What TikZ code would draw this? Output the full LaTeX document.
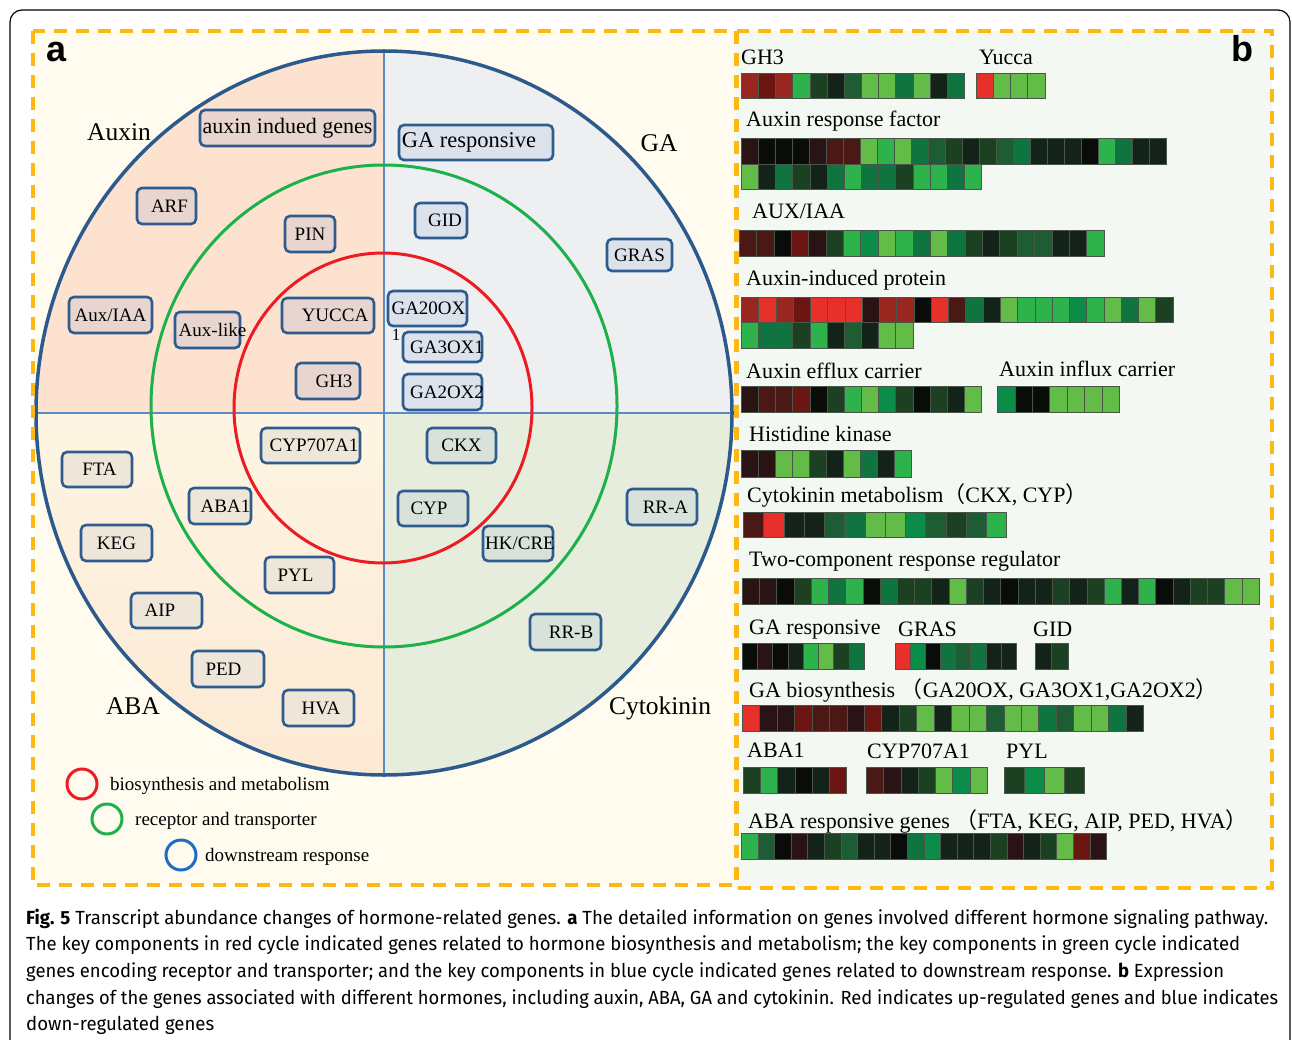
\documentclass[tikz,border=0pt]{standalone}
\usepackage{graphicx}
\usepackage{fontspec}
\setmainfont{Liberation Serif}
\newfontfamily\capfont{Fira Sans}
\newfontfamily\lblfont{Liberation Sans}
\newfontfamily\cjk{Noto Sans CJK SC}
\definecolor{hA}{HTML}{E8302A}
\definecolor{hB}{HTML}{98281F}
\definecolor{hC}{HTML}{6C1614}
\definecolor{hD}{HTML}{4C1816}
\definecolor{hE}{HTML}{2A1315}
\definecolor{hK}{HTML}{0A0C0A}
\definecolor{h1}{HTML}{13231A}
\definecolor{h2}{HTML}{1C4022}
\definecolor{h3}{HTML}{1E5C34}
\definecolor{h4}{HTML}{0F7440}
\definecolor{h5}{HTML}{2DB24C}
\definecolor{h6}{HTML}{62BC47}
\definecolor{h7}{HTML}{0B8C48}
\definecolor{hedge}{HTML}{4A564A}
\definecolor{pa}{HTML}{FFFBEF}
\definecolor{pb}{HTML}{F3F8F2}
\definecolor{dashc}{HTML}{FDB813}
\definecolor{qA}{HTML}{FCE2CF}
\definecolor{qG}{HTML}{EDEFF0}
\definecolor{qBt}{HTML}{FDF5E3}
\definecolor{qBb}{HTML}{FCE9D4}
\definecolor{qC}{HTML}{E6EDDC}
\definecolor{bA}{HTML}{E8D5CF}
\definecolor{bG}{HTML}{DCE2EC}
\definecolor{bB}{HTML}{EEE6D8}
\definecolor{bC}{HTML}{D8E2DA}
\definecolor{bxline}{HTML}{2F5C8F}
\definecolor{cblue}{HTML}{2C5A8C}
\definecolor{cgreen}{HTML}{1DB04B}
\definecolor{cred}{HTML}{EC1C24}
\definecolor{lblue}{HTML}{1B6EC2}
\definecolor{divc}{HTML}{5B8BC6}
\tikzset{
  gb/.style={draw=bxline, line width=2.6pt, rounded corners=5pt, inner sep=0pt, font=\fontsize{19}{19}\selectfont},
  qlab/.style={anchor=base, font=\fontsize{25.5}{26}\selectfont},
  hlab/.style={anchor=base west, inner sep=0pt, font=\fontsize{22}{22}\selectfont},
  leglab/.style={anchor=base west, inner sep=0pt, font=\fontsize{19}{19}\selectfont},
  captxt/.style={anchor=base west, inner sep=0pt, font=\capfont\fontsize{19}{19}\selectfont},
  plab/.style={anchor=base west, inner sep=0pt, font=\lblfont\bfseries\fontsize{36}{36}\selectfont},
  dashbox/.style={draw=dashc, line width=3.2pt, dash pattern=on 13pt off 9pt},
}
\newcommand\hm[5]{%
  \foreach \c [count=\i from 0] in {#5}{%
    \path[fill=h\c, draw=hedge, line width=0.5pt] ({#1+\i*#3},#2) rectangle ++(#3,#4);}%
}
\newcommand\gbx[8]{\node[gb, fill=#6, minimum width=#4pt, minimum height=#5pt] (#1) at (#2,#3) {\makebox[0pt][c]{\hspace*{#7pt}#8\hspace*{-#7pt}}};}
\begin{document}
\begin{tikzpicture}[x=1pt,y=-1pt]
\useasboundingbox (0,0) rectangle (1292,1040);
\fill[white] (0,0) rectangle (1292,1040);
\begin{scope}
  \clip (0,0) rectangle (1292,1040);
  \draw[black, line width=1.2pt, rounded corners=12pt] (10,10) rectangle (1290,1080);
\end{scope}
% panel backgrounds
\fill[pa] (33,31) rectangle (736,885);
\fill[pb] (736,31) rectangle (1272,888);
% quadrant fills
\begin{scope}
  \clip (384,413) ellipse [x radius=348pt, y radius=362pt];
  \fill[qA] (30,40) rectangle (384,413);
  \fill[qG] (384,40) rectangle (740,413);
  \shade[top color=qBt, bottom color=qBb] (30,413) rectangle (384,780);
  \fill[qC] (384,413) rectangle (740,780);
\end{scope}
% dividers
\draw[divc, line width=1.2pt] (36,413) -- (731,413);
\draw[divc, line width=1.2pt] (384,52) -- (384,775);
% circles
\draw[cgreen, line width=3pt] (384,406) ellipse [x radius=233pt, y radius=241pt];
\draw[cred, line width=3pt] (383,408) ellipse [x radius=149pt, y radius=155pt];
\draw[cblue, line width=3.5pt] (384,413) ellipse [x radius=348pt, y radius=362pt];
% quadrant labels
\node[qlab] (tAux) at (119,141) {Auxin};
\node[qlab] (tGA) at (659,152) {GA};
\node[qlab] (tABA) at (133,714) {ABA};
\node[qlab] (tCK) at (660,714) {Cytokinin};
% auxin boxes
\gbx{auxg}{287.5}{128}{175}{36}{bA}{0}{\fontsize{22}{22}\selectfont auxin indued genes}
\gbx{arf}{166.5}{206}{59}{36}{bA}{3}{ARF}
\gbx{pin}{310}{234}{50}{36}{bA}{0}{PIN}
\gbx{auxiaa}{110.5}{315}{83}{36}{bA}{0}{Aux/IAA}
\gbx{auxlike}{207.5}{330}{65}{36}{bA}{5}{Aux-like}
\gbx{yucca}{328}{315.5}{92}{35}{bA}{7}{YUCCA}
\gbx{gh3}{328}{381}{64}{36}{bA}{6}{GH3}
% GA boxes
\gbx{garesp}{476}{142.5}{154}{35}{bG}{-7}{\fontsize{22.5}{22.5}\selectfont GA responsive}
\gbx{gid}{441}{220.5}{52}{35}{bG}{4}{GID}
\gbx{gras}{639.5}{255}{65}{32}{bG}{0}{GRAS}
\gbx{ga20}{427.5}{308.5}{79}{35}{bG}{1}{GA20OX}
\gbx{ga3}{442.5}{347}{79}{30}{bG}{4.5}{GA3OX1}
\gbx{ga2}{442.5}{392}{79}{36}{bG}{4.5}{GA2OX2}
\node[font=\fontsize{17}{17}\selectfont, inner sep=0pt] (one) at (396,335) {1};
% ABA boxes
\gbx{cyp707}{310.5}{445.5}{99}{35}{bB}{3.5}{CYP707A1}
\gbx{fta}{97}{469.5}{70}{35}{bB}{2.5}{FTA}
\gbx{aba1}{220}{506}{62}{36}{bB}{5.5}{ABA1}
\gbx{keg}{116.5}{543}{71}{36}{bB}{0}{KEG}
\gbx{pyl}{299.5}{575}{69}{36}{bB}{-4}{PYL}
\gbx{aip}{166.5}{610.5}{71}{35}{bB}{-6.5}{AIP}
\gbx{ped}{228}{669}{72}{36}{bB}{-4.5}{PED}
\gbx{hva}{318.5}{708}{71}{36}{bB}{2.5}{HVA}
% cytokinin boxes
\gbx{ckx}{461.5}{445.5}{69}{35}{bC}{0}{CKX}
\gbx{cyp}{433}{508.5}{70}{35}{bC}{-4}{CYP}
\gbx{hkcre}{518}{543.5}{70}{35}{bC}{2}{HK/CRE}
\gbx{rra}{662}{507}{70}{36}{bC}{3.5}{RR-A}
\gbx{rrb}{565.5}{632}{71}{36}{bC}{5.5}{RR-B}
% legend
\draw[cred, line width=3pt] (82,784) circle [radius=15pt];
\draw[cgreen, line width=3pt] (107,819) circle [radius=15pt];
\draw[lblue, line width=3pt] (181,855) circle [radius=15pt];
\node[leglab] (lg1) at (110,790) {biosynthesis and metabolism};
\node[leglab] (lg2) at (135,825) {receptor and transporter};
\node[leglab] (lg3) at (205,861) {downstream response};
% panel b labels
\node[hlab] (bgh3) at (741,65) {GH3};
\node[hlab] (byuc) at (979,65) {Yucca};
\node[hlab] (barf) at (746,127) {Auxin response factor};
\node[hlab] (baux) at (752,219) {AUX/IAA};
\node[hlab] (baip) at (746,286) {Auxin-induced protein};
\node[hlab] (beff) at (746,378) {Auxin efflux carrier};
\node[hlab] (binf) at (999,376) {Auxin influx carrier};
\node[hlab] (bhk) at (749,441) {Histidine kinase};
\node[hlab] (bckm) at (747,502) {Cytokinin metabolism{\cjk （}CKX, CYP{\cjk ）}};
\node[hlab] (btc) at (749,566) {Two-component response regulator};
\node[hlab] (bgar) at (749,634) {GA responsive};
\node[hlab] (bgras) at (898,636) {GRAS};
\node[hlab] (bgid) at (1033,636) {GID};
\node[hlab] (bgab) at (749,697) {GA biosynthesis {\cjk （}GA20OX, GA3OX1,GA2OX2{\cjk ）}};
\node[hlab] (baba1) at (747,757) {ABA1};
\node[hlab] (bcyp) at (867,758) {CYP707A1};
\node[hlab] (bpyl) at (1006,758) {PYL};
\node[hlab] (babar) at (748,828) {ABA responsive genes {\cjk （}FTA, KEG, AIP, PED, HVA{\cjk ）}};
% heatmap rows
\hm{741.2}{73}{17.17}{25.5}{B,C,B,5,2,1,3,6,6,4,6,1,4}
\hm{975.9}{73}{17.27}{25.5}{A,6,6,6}
\hm{741.2}{138.3}{17.0}{26}{E,K,K,K,E,D,D,6,5,6,4,3,2,1,2,3,4,1,1,1,K,5,4,1,1}
\hm{741.2}{164.3}{17.16}{25}{6,1,4,2,1,4,5,4,4,2,5,5,4,5}
\hm{739.1}{230}{17.37}{26}{D,D,K,C,E,2,5,7,6,5,4,6,4,2,1,2,3,3,1,1,5}
\hm{741.2}{297}{17.27}{25.5}{B,A,B,C,A,A,A,E,B,B,K,A,D,4,1,6,5,5,5,7,5,6,4,6,2}
\hm{741.2}{322.5}{17.16}{25.5}{5,4,4,2,5,1,3,1,6,6}
\hm{741.2}{386}{17.16}{26.5}{E,D,D,C,K,2,5,6,7,2,K,2,1,6}
\hm{997.6}{386}{17.37}{26.5}{7,K,K,6,6,6,6}
\hm{741.2}{450}{16.96}{27}{E,E,6,6,2,1,6,4,1,5}
\hm{743.2}{512}{20.27}{25.5}{D,A,1,1,3,4,6,6,7,3,2,3,5}
\hm{742.2}{578}{17.23}{26}{E,E,K,2,5,4,5,K,4,2,2,1,6,2,1,K,1,1,2,1,2,5,1,5,K,1,2,2,6,6}
\hm{742.2}{643}{15.25}{26}{K,E,K,1,5,6,2,4}
\hm{895.2}{643}{15.1}{26}{A,7,K,4,3,4,1,1}
\hm{1034.8}{643}{16.5}{26}{1,2}
\hm{742.2}{705}{17.44}{26}{A,E,E,C,D,D,E,C,1,2,6,1,6,6,3,6,6,4,3,6,6,4,1}
\hm{743.2}{767}{17.24}{26}{2,5,1,K,1,C}
\hm{866.3}{767}{17.27}{26}{D,E,1,2,6,7,6}
\hm{1003.8}{767}{20.16}{26}{2,7,6,2}
\hm{741.2}{833}{16.6}{26}{5,3,K,E,1,2,3,1,1,K,4,7,1,1,1,2,E,1,2,6,C,E}
% dashed panel borders
\draw[dashbox] (33,31) rectangle (736,885);
\draw[dashbox] (737,31) rectangle (1272,888);
% panel letters
\node[plab] (la) at (46,62) {a};
\node[plab] (lb) at (1231,62) {b};
% caption
\node[captxt] (c1) at (26,924) {\resizebox{1242pt}{\height}{\textbf{Fig. 5} Transcript abundance changes of hormone-related genes. \textbf{a} The detailed information on genes involved different hormone signaling pathway.}};
\node[captxt] (c2) at (26,950) {\resizebox{1214pt}{\height}{The key components in red cycle indicated genes related to hormone biosynthesis and metabolism; the key components in green cycle indicated}};
\node[captxt] (c3) at (26,977) {\resizebox{1198pt}{\height}{genes encoding receptor and transporter; and the key components in blue cycle indicated genes related to downstream response. \textbf{b} Expression}};
\node[captxt] (c4) at (26,1004) {\resizebox{1252pt}{\height}{changes of the genes associated with different hormones, including auxin, ABA, GA and cytokinin. Red indicates up-regulated genes and blue indicates}};
\node[captxt] (c5) at (26,1030) {\resizebox{188pt}{\height}{down-regulated genes}};
\end{tikzpicture}
\end{document}
